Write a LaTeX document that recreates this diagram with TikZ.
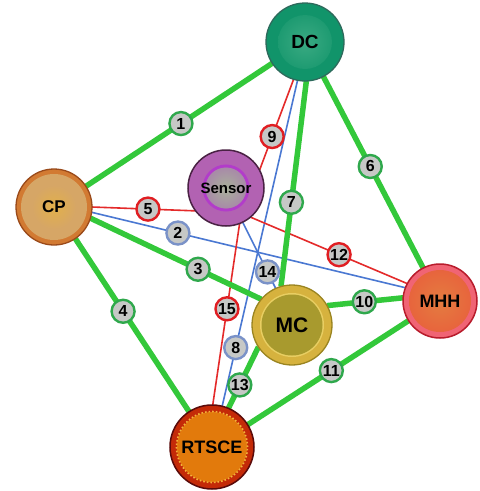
\documentclass[tikz,border=0pt]{standalone}
\usepackage{fontspec}
\setmainfont{Liberation Sans}
\pgfdeclarelayer{bg}
\pgfdeclarelayer{mid}
\pgfsetlayers{bg,mid,main}

\definecolor{lgreen}{HTML}{33C83A}
\definecolor{lred}{HTML}{E42A2A}
\definecolor{lblue}{HTML}{4A78D2}
\definecolor{tagfill}{HTML}{C6C8C6}
\definecolor{taggreen}{HTML}{2FA84C}
\definecolor{tagred}{HTML}{E01E22}
\definecolor{tagblue}{HTML}{7A92C8}
% component colours
\definecolor{dcedge}{HTML}{2E6A5C}
\definecolor{dcfill}{HTML}{11946A}
\definecolor{dcin}{HTML}{3AAA82}
\definecolor{cpedge}{HTML}{9A4A1A}
\definecolor{cpring}{HTML}{D27A32}
\definecolor{cpfill}{HTML}{D6A666}
\definecolor{cpin}{HTML}{E2B04A}
\definecolor{snedge}{HTML}{4A2244}
\definecolor{snfill}{HTML}{B262B2}
\definecolor{snring}{HTML}{B23CCA}
\definecolor{snin}{HTML}{A8B29A}
\definecolor{snout}{HTML}{A88AA8}
\definecolor{mcedge}{HTML}{9A8420}
\definecolor{mcring}{HTML}{D6B23E}
\definecolor{mcline}{HTML}{E8CE62}
\definecolor{mcfill}{HTML}{A89A2E}
\definecolor{mhedge}{HTML}{B81C2C}
\definecolor{mhring}{HTML}{F06474}
\definecolor{mhin}{HTML}{E47C40}
\definecolor{mhfill}{HTML}{E8603C}
\definecolor{rtedge}{HTML}{5A0A0A}
\definecolor{rtring}{HTML}{C42A08}
\definecolor{rtfill}{HTML}{E27A0C}
\definecolor{rtdots}{HTML}{F2B23A}

\tikzset{
  big/.style={circle, inner sep=0pt, outer sep=0pt},
  g edge/.style={draw=lgreen, line width=5.5pt},
  r edge/.style={draw=lred, line width=1.6pt},
  b edge/.style={draw=lblue, line width=1.6pt},
  tag/.style={circle, fill=tagfill, line width=2.4pt, minimum size=23pt,
    inner sep=0pt, font=\fontsize{16}{16}\selectfont\bfseries},
  g tag/.style={tag, draw=taggreen},
  r tag/.style={tag, draw=tagred},
  b tag/.style={tag, draw=tagblue},
}

\begin{document}
\begin{tikzpicture}[x=1pt, y=-1pt]
\useasboundingbox (0,0) rectangle (480,491);

% the six components
\node[big, minimum size=78pt, draw=dcedge, line width=1.3pt, fill=dcfill,
  path picture={\shade[inner color=dcin, outer color=dcfill]
    (path picture bounding box.center) circle (27pt);},
  font=\fontsize{19}{19}\selectfont\bfseries] (dc) at (305,42) {DC};

\node[big, minimum size=76pt, draw=cpedge, line width=1.3pt, fill=cpring,
  path picture={\fill[cpfill] (path picture bounding box.center) circle (33pt);
    \shade[inner color=cpin, outer color=cpfill]
    (path picture bounding box.center) circle (22pt);},
  font=\fontsize{17}{17}\selectfont\bfseries] (cp) at (54,207) {CP};

\node[big, minimum size=76pt, draw=snedge, line width=1.5pt, fill=snfill,
  path picture={\draw[snring, line width=3pt]
    (path picture bounding box.center) circle (22pt);
    \shade[inner color=snin, outer color=snout]
    (path picture bounding box.center) circle (20.5pt);},
  font=\fontsize{15}{15}\selectfont\bfseries] (sen) at (226,188) {Sensor};

\node[big, minimum size=80pt, draw=mcedge, line width=1.3pt, fill=mcring,
  path picture={\fill[mcline] (path picture bounding box.center) circle (32pt);
    \fill[mcfill] (path picture bounding box.center) circle (30.5pt);},
  font=\fontsize{21}{21}\selectfont\bfseries] (mc) at (292,325) {MC};

\node[big, minimum size=74pt, draw=mhedge, line width=1.5pt, fill=mhring,
  path picture={\shade[inner color=mhin, outer color=mhfill]
    (path picture bounding box.center) circle (31pt);},
  font=\fontsize{18}{18}\selectfont\bfseries] (mhh) at (440,301) {MHH};

\node[big, minimum size=84pt, draw=rtedge, line width=1.5pt, fill=rtring,
  path picture={\fill[rtfill] (path picture bounding box.center) circle (35pt);
    \draw[rtdots, line width=1.6pt, dotted]
    (path picture bounding box.center) circle (35.5pt);},
  font=\fontsize{18}{18}\selectfont\bfseries] (rt) at (212,447) {RTSCE};

% links: from / to / kind / label position / label
\def\links{
  cp.-8/mhh.159/b/.275/2,
  dc.259.5/rt.76.6/b/.82/8,
  sen.-64/mc.114.6/b/.75/14,
  cp.0/sen.217.7/r/.54/5,
  dc.253.7/sen.28/r/.63/9,
  sen.-50/mhh.152.8/r/.565/12,
  sen.-69/rt.89/r/.47/15,
  cp.33.3/dc.213.3/g/.51/1,
  cp.-17.6/mc.140/g/.63/3,
  cp.-56.6/rt.123.4/g/.42/4,
  dc.-62.5/mhh.117.5/g/.47/6,
  dc.-88/mc.106/g/.59/7,
  mc.29.6/mhh.175/g/.49/10,
  mhh.212.6/rt.32.6/g/.48/11,
  mc.213.7/rt.67/g/.62/13}

\begin{pgfonlayer}{bg}
  \fill[white] (0,0) rectangle (480,491);
  \foreach \a/\b/\k/\p/\t in \links {
    \draw[\k\space edge] (\a) -- (\b);
  }
\end{pgfonlayer}

\begin{pgfonlayer}{mid}
  \foreach \a/\b/\k/\p/\t in \links {
    \path (\a) -- node[\k\space tag, pos=\p] (tag\t) {\t} (\b);
  }
\end{pgfonlayer}
\end{tikzpicture}
\end{document}
